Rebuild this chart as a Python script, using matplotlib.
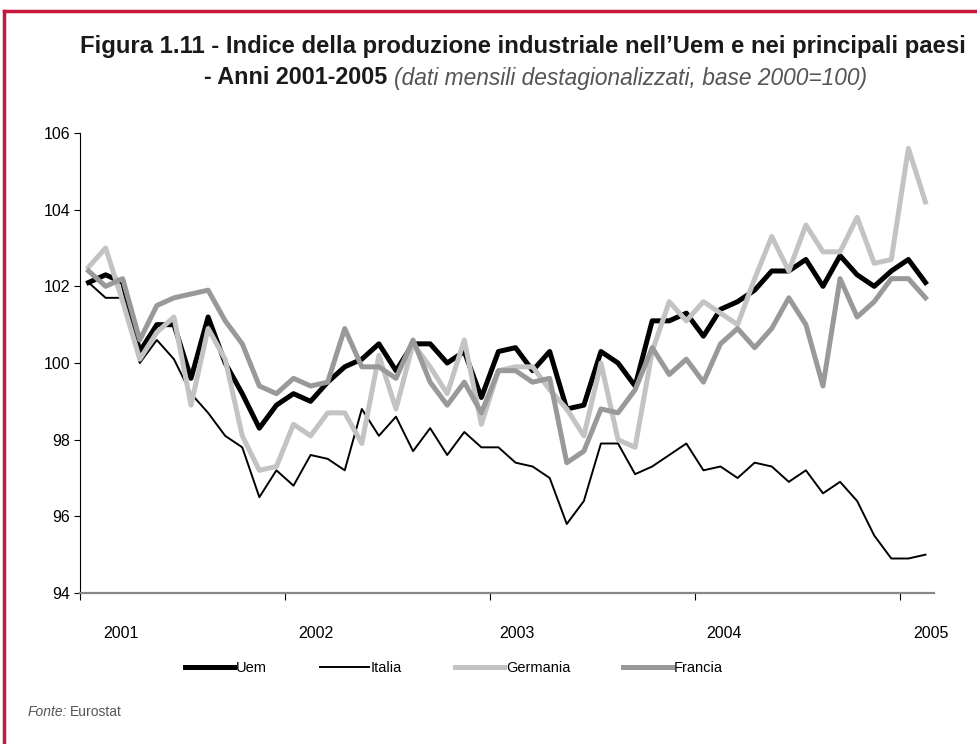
import matplotlib
matplotlib.use("Agg")
import matplotlib.pyplot as plt
import numpy as np

plt.rcParams['font.family'] = ['Liberation Sans', 'DejaVu Sans']

# indice produzione industriale, dati mensili gen 2001 - feb 2005 (base 2000=100)
uem = [102.1, 102.3, 102.1, 100.3, 101.0, 101.0, 99.6, 101.2, 100.0, 99.2,
       98.3, 98.9, 99.2, 99.0, 99.5, 99.9, 100.1, 100.5, 99.8, 100.5,
       100.5, 100.0, 100.3, 99.1, 100.3, 100.4, 99.8, 100.3, 98.8, 98.9,
       100.3, 100.0, 99.4, 101.1, 101.1, 101.3, 100.7, 101.4, 101.6, 101.9,
       102.4, 102.4, 102.7, 102.0, 102.8, 102.3, 102.0, 102.4, 102.7, 102.1]
italia = [102.1, 101.7, 101.7, 100.0, 100.6, 100.1, 99.2, 98.7, 98.1, 97.8,
          96.5, 97.2, 96.8, 97.6, 97.5, 97.2, 98.8, 98.1, 98.6, 97.7,
          98.3, 97.6, 98.2, 97.8, 97.8, 97.4, 97.3, 97.0, 95.8, 96.4,
          97.9, 97.9, 97.1, 97.3, 97.6, 97.9, 97.2, 97.3, 97.0, 97.4,
          97.3, 96.9, 97.2, 96.6, 96.9, 96.4, 95.5, 94.9, 94.9, 95.0]
germania = [102.5, 103.0, 101.6, 100.1, 100.8, 101.2, 98.9, 100.9, 100.1, 98.1,
            97.2, 97.3, 98.4, 98.1, 98.7, 98.7, 97.9, 100.2, 98.8, 100.5,
            99.9, 99.2, 100.6, 98.4, 99.8, 99.9, 99.9, 99.3, 98.8, 98.1,
            100.0, 98.0, 97.8, 100.3, 101.6, 101.1, 101.6, 101.3, 101.0, 102.2,
            103.3, 102.4, 103.6, 102.9, 102.9, 103.8, 102.6, 102.7, 105.6, 104.2]
francia = [102.4, 102.0, 102.2, 100.6, 101.5, 101.7, 101.8, 101.9, 101.1, 100.5,
           99.4, 99.2, 99.6, 99.4, 99.5, 100.9, 99.9, 99.9, 99.6, 100.6,
           99.5, 98.9, 99.5, 98.7, 99.8, 99.8, 99.5, 99.6, 97.4, 97.7,
           98.8, 98.7, 99.3, 100.4, 99.7, 100.1, 99.5, 100.5, 100.9, 100.4,
           100.9, 101.7, 101.0, 99.4, 102.2, 101.2, 101.6, 102.2, 102.2, 101.7]
anni = ['2001', '2002', '2003', '2004', '2005']

x = np.arange(len(uem))

W, H = 977, 744
fig = plt.figure(figsize=(W / 100, H / 100), dpi=100)

# bordo rosso
red = '#c8173d'
fig.add_artist(plt.Line2D([4 / W, 1], [1 - 11 / H, 1 - 11 / H], color=red, lw=2.5))
fig.add_artist(plt.Line2D([4 / W, 4 / W], [0, 1 - 11 / H], color=red, lw=2.5))

ax = fig.add_axes([80 / W, (H - 593) / H, 854 / W, 460 / H])

ax.plot(x, uem, color='black', lw=3.6, label='Uem', solid_joinstyle='round')
ax.plot(x, italia, color='black', lw=1.4, label='Italia')
ax.plot(x, germania, color='#c3c3c3', lw=3.6, label='Germania', solid_joinstyle='round')
ax.plot(x, francia, color='#999999', lw=3.6, label='Francia', solid_joinstyle='round')

ax.set_xlim(-0.5, len(uem) - 0.5)
ax.set_ylim(94, 106)
ax.set_yticks(np.arange(94, 107, 2))
ax.tick_params(axis='y', direction='out', length=4, width=0.8, labelsize=11.5, pad=3)

# tacche tra gli anni, etichette spostate come nell'originale
ax.set_xticks(np.arange(-0.5, len(uem), 12))
ax.set_xticklabels([])
ax.set_xticks([1.9, 13.3, 25.1, 37.2, 49.3], minor=True)
ax.set_xticklabels(anni, minor=True)
ax.tick_params(axis='x', which='major', direction='out', length=5, width=0.8)
ax.tick_params(axis='x', which='minor', length=0, labelsize=11.5, pad=24)

for s in ['top', 'right']:
    ax.spines[s].set_visible(False)
ax.spines['left'].set_linewidth(0.8)
ax.spines['bottom'].set_color('#888888')
ax.spines['bottom'].set_linewidth(1.6)

fig.legend(loc='center', bbox_to_anchor=(454 / W, 1 - 668 / H), ncol=4, frameon=False,
           fontsize=10.5, handlelength=3.4, handletextpad=0.12, columnspacing=3.6)

# titolo
t1 = fig.text(80 / W, 1 - 47 / H, "Figura 1.11 - Indice della produzione industriale nell\u2019Uem e nei principali paesi",
              fontsize=17.2, fontweight='bold', color='#1a1a1a', va='center')
t2 = fig.text(204 / W, 1 - 78 / H, "- Anni 2001-2005 ", fontsize=16.8, fontweight='bold',
              color='#1a1a1a', va='center')
fig.canvas.draw()
bb = t2.get_window_extent()
fig.text(bb.x1 / W, 1 - 78 / H, "(dati mensili destagionalizzati, base 2000=100)",
         fontsize=16.4, style='italic', color='#555555', va='center')

f1 = fig.text(28 / W, 1 - 712 / H, "Fonte:", fontsize=10, style='italic', color='#555555', va='center')
fig.canvas.draw()
bb = f1.get_window_extent()
fig.text(bb.x1 / W + 2 / W, 1 - 712 / H, "Eurostat", fontsize=10, color='#555555', va='center')

fig.savefig('out.png', dpi=100)
